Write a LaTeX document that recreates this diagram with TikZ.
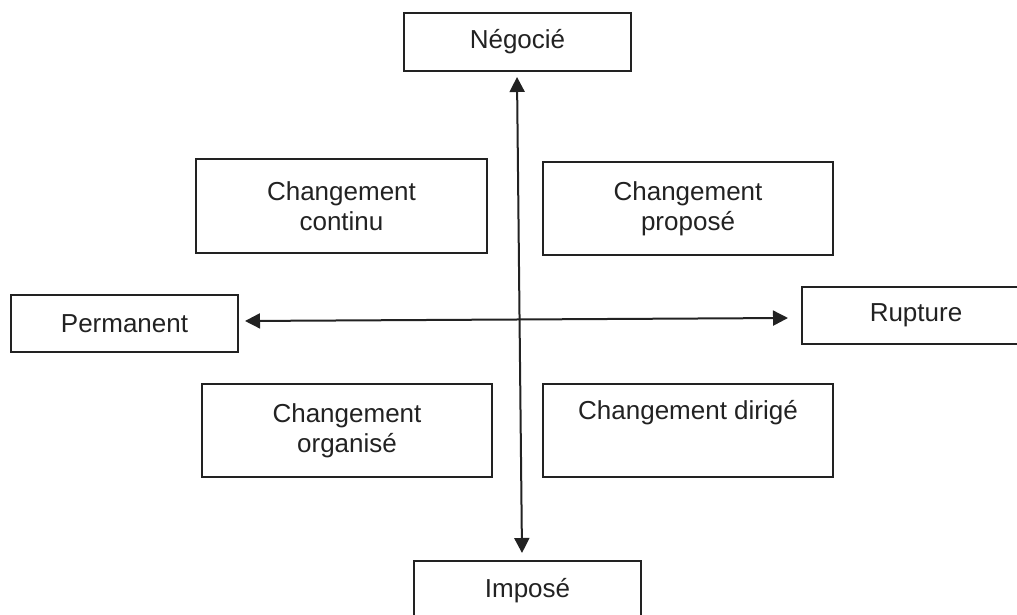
\documentclass[tikz,border=0pt]{standalone}
\usepackage{fontspec}
\setmainfont{Liberation Sans}
\usetikzlibrary{arrows.meta}
\definecolor{ink}{HTML}{222222}
\begin{document}
\begin{tikzpicture}[x=1pt,y=-1pt,
  box/.style={draw=ink, line width=1.7pt, fill=white, inner sep=0pt, text=ink,
    font=\fontsize{26}{30}\selectfont, align=center},
  arr/.style={draw=ink, line width=2pt, {Triangle[length=15pt,width=15pt]}-{Triangle[length=15pt,width=15pt]}}]
\useasboundingbox (0,0) rectangle (1017,615);
\clip (0,0) rectangle (1017,615);
\node[box, minimum width=227, minimum height=58] (N) at (517.5,42) {Négocié};
\node[box, minimum width=227, minimum height=57] (P) at (124.5,323.5) {Permanent};
\node[box, minimum width=228, minimum height=57] (R) at (916,315.5) {Rupture};
\node[box, minimum width=227, minimum height=60] (I) at (527.5,591) {\raisebox{-5pt}{Imposé}};
\node[box, minimum width=291, minimum height=94] (CC) at (341.5,206) {Changement\\continu};
\node[box, minimum width=290, minimum height=93] (CP) at (688,208.5) {Changement\\proposé};
\node[box, minimum width=290, minimum height=93] (CO) at (347,430.5) {Changement\\organisé};
\node[box, minimum width=290, minimum height=93] (CD) at (688,430.5) {};
\node[text=ink, font=\fontsize{26}{30}\selectfont, anchor=base] (CDt) at (688,419) {Changement dirigé};
\coordinate (vt) at (517,77);
\coordinate (vb) at (522,553);
\coordinate (hl) at (245,321);
\coordinate (hr) at (788,318);
\draw[arr] (vt) -- (vb);
\draw[arr] (hl) -- (hr);
\end{tikzpicture}
\end{document}
